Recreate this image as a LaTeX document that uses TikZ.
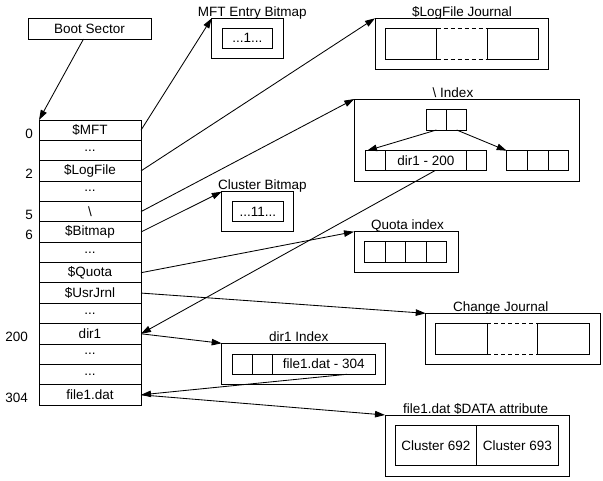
\documentclass[tikz,border=0pt]{standalone}
\usepackage{fontspec}
\setmainfont{Liberation Sans}
\usetikzlibrary{arrows.meta}
\begin{document}
\begin{tikzpicture}[x=1pt,y=-1pt,line width=0.85pt,
  font=\fontsize{13.5}{16}\selectfont,
  bx/.style n args={2}{draw,inner sep=0pt,outer sep=0pt,anchor=north west,minimum width=#1,minimum height=#2},
  row/.style={bx={102}{20.36}},
  lbl/.style={inner sep=0pt,anchor=base},
  num/.style={inner sep=0pt,anchor=base west},
  arr/.style={-{Triangle[length=10pt,width=6.5pt]}},
  dsh/.style={dashed,dash pattern=on 4pt off 3pt}]
\useasboundingbox (0,0) rectangle (603,480);

% Boot sector
\node[bx={123}{21}] (boot) at (28,18) {Boot Sector};

% MFT table
\node[row] (r0)  at (39,120)    {\$MFT};
\node[row] (r1)  at (39,140.36) {...};
\node[row] (r2)  at (39,160.72) {\$LogFile};
\node[row] (r3)  at (39,181.08) {...};
\node[row] (r4)  at (39,201.44) {\textbackslash};
\node[row] (r5)  at (39,221.8)  {\$Bitmap};
\node[row] (r6)  at (39,242.16) {...};
\node[row] (r7)  at (39,262.52) {\$Quota};
\node[row] (r8)  at (39,282.88) {\$UsrJrnl};
\node[row] (r9)  at (39,303.24) {...};
\node[row] (r10) at (39,323.6)  {dir1};
\node[row] (r11) at (39,343.96) {...};
\node[row] (r12) at (39,364.32) {...};
\node[row] (r13) at (39,384.68) {file1.dat};

% row numbers
\node[num] (n0)   at (25,138.3) {0};
\node[num] (n2)   at (25,178.6) {2};
\node[num] (n5)   at (25,219.3) {5};
\node[num] (n6)   at (25,239.5) {6};
\node[num] (n200) at (5,341.5)  {200};
\node[num] (n304) at (5,402)    {304};

% MFT Entry Bitmap
\node[bx={71.6}{40}] (mftbm) at (211.7,18.3) {};
\node[bx={50.7}{20}] (mftin) at (222,28.3) {...1...};
\node[lbl] (mftlbl) at (252.3,16.3) {MFT Entry Bitmap};

% $LogFile Journal
\node[bx={173.3}{50.7}] (logj) at (375,18.3) {};
\node[bx={51.7}{30.7}] (lj1) at (385,28.3) {};
\node[bx={51}{30.7}] (lj3) at (487.3,28.3) {};
\draw[dsh] (lj1.north east) -- (lj3.north west);
\draw[dsh] (lj1.south east) -- (lj3.south west);
\node[lbl] (loglbl) at (462,16.3) {\$LogFile Journal};

% \ Index
\node[bx={224.7}{82}] (idx) at (354.3,99) {};
\node[lbl] (idxlbl) at (453,97) {\textbackslash\ Index};
\node[bx={20.7}{20.7}] (tA) at (426,109.3) {};
\node[bx={20}{20.7}] (tB) at (446.7,109.3) {};
\node[bx={20}{20}] (l1) at (365,150.7) {};
\node[bx={81.7}{20}] (l2) at (385,150.7) {dir1 - 200};
\node[bx={20}{20}] (l3) at (466.7,150.7) {};
\node[bx={21}{20}] (c1) at (506.7,150.7) {};
\node[bx={20.6}{20}] (c2) at (527.7,150.7) {};
\node[bx={20}{20}] (c3) at (548.3,150.7) {};
\draw[arr] (tA.south) -- ([xshift=2pt]l1.north west);
\draw[arr] (tB.south) -- (c1.north west);

% Cluster Bitmap
\node[bx={71.6}{40}] (clbm) at (221.7,191.7) {};
\node[bx={51}{20}] (clin) at (232.3,201.7) {...11...};
\node[lbl] (cllbl) at (262.5,189.7) {Cluster Bitmap};

% Quota index
\node[bx={104.3}{40.6}] (quota) at (354,231.7) {};
\node[bx={20.7}{20.6}] (q1) at (364.3,241.7) {};
\node[bx={20.7}{20.6}] (q2) at (385,241.7) {};
\node[bx={20.3}{20.6}] (q3) at (405.7,241.7) {};
\node[bx={20.7}{20.6}] (q4) at (426,241.7) {};
\node[lbl] (qlbl) at (407.5,229.7) {Quota index};

% Change Journal
\node[bx={174.3}{50.7}] (chj) at (425.7,313.3) {};
\node[bx={51.6}{30.7}] (cj1) at (435.7,323.3) {};
\node[bx={51.6}{30.7}] (cj3) at (537.7,323.3) {};
\draw[dsh] (cj1.north east) -- (cj3.north west);
\draw[dsh] (cj1.south east) -- (cj3.south west);
\node[lbl] (chlbl) at (500.8,311.3) {Change Journal};

% dir1 Index
\node[bx={163.3}{41}] (d1idx) at (221.7,343.3) {};
\node[bx={20.4}{20.3}] (d1) at (232.3,354) {};
\node[bx={20}{20.3}] (d2) at (252.7,354) {};
\node[bx={102.3}{20.3}] (d3) at (272.7,354) {file1.dat - 304};
\node[lbl] (d1lbl) at (298.8,341.3) {dir1 Index};

% file1.dat $DATA attribute
\node[bx={184}{61}] (data) at (385,415) {};
\node[bx={81.7}{40.7}] (dc1) at (395,425) {Cluster 692};
\node[bx={81.6}{40.7}] (dc2) at (476.7,425) {Cluster 693};
\node[lbl] (datalbl) at (475.7,413) {file1.dat \$DATA attribute};

% connectors
\draw[arr] ([xshift=-6pt]boot.south) -- (r0.north west);
\draw[arr] (r0.east) -- (mftbm.north west);
\draw[arr] (r2.east) -- (logj.north west);
\draw[arr] (r4.east) -- (idx.north west);
\draw[arr] (r5.east) -- (clbm.north west);
\draw[arr] (r7.east) -- (quota.north west);
\draw[arr] (r8.east) -- (chj.north west);
\draw[arr] (r10.east) -- (d1idx.north west);
\draw[arr] ([xshift=9pt]l2.south) -- (r10.east);
\draw[arr] ([xshift=23pt]d3.south) -- (r13.east);
\draw[arr] (r13.east) -- (data.north west);
\end{tikzpicture}
\end{document}
